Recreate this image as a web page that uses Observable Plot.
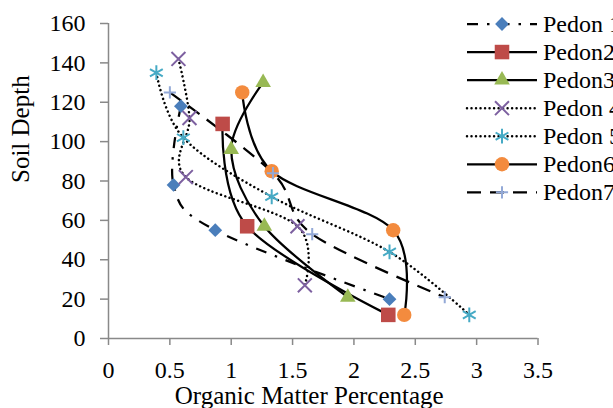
<!DOCTYPE html>
<html>
<head>
<meta charset="utf-8">
<script src="https://cdn.jsdelivr.net/npm/d3@7"></script>
<script src="https://cdn.jsdelivr.net/npm/@observablehq/plot@0.6"></script>
<style>
  html, body { margin: 0; padding: 0; background: #fff; }
  #wrap { position: relative; width: 613px; height: 408px; overflow: hidden; font-family: "Liberation Serif", "DejaVu Serif", serif; }
  #wrap svg { position: absolute; left: 0; top: 0; }
</style>
</head>
<body>
<div id="wrap"></div>
<script>
// ---- data ----
const pedonNames = ["Pedon 1", "Pedon2", "Pedon3", "Pedon 4", "Pedon 5", "Pedon6", "Pedon7"];
const om1 = [0.59, 0.53, 0.87, 2.29];        const depth1 = [118, 78, 55, 20];
const om2 = [0.93, 1.13, 2.28];              const depth2 = [109, 57, 12];
const om3 = [1.26, 1.00, 1.27, 1.95];        const depth3 = [130, 96, 57, 21];
const om4 = [0.57, 0.66, 0.63, 1.54, 1.60];  const depth4 = [142, 112, 82, 57, 27];
const om5 = [0.39, 0.61, 1.33, 2.29, 2.94];  const depth5 = [135, 102, 72, 44, 12];
const om6 = [1.09, 1.33, 2.32, 2.41];        const depth6 = [125, 85, 55, 12];
const om7 = [0.50, 1.34, 1.66, 2.74];        const depth7 = [125, 84, 53, 21];
const xTicks = [0, 0.5, 1, 1.5, 2, 2.5, 3, 3.5];
const yTicks = [0, 20, 40, 60, 80, 100, 120, 140, 160];
const xLabel = "Organic Matter Percentage";
const yLabel = "Soil Depth";

// ---- styles ----
const styles = [
  {symbol: "diamond2", color: "#4A7EBB", r: 6.2, filled: true,  dash: "11,9,2.5,9"},
  {symbol: "square",   color: "#BE4B48", r: 8.2, filled: true,  dash: null},
  {symbol: "triangle", color: "#98B954", r: 5.8, filled: true,  dash: null},
  {symbol: "times",    color: "#7D60A0", r: 6.4, filled: false, dash: "0.01,4.5"},
  {symbol: "asterisk", color: "#46AAC5", r: 7.0, filled: false, dash: "0.01,4.5"},
  {symbol: "circle",   color: "#F38B3E", r: 7.2, filled: true,  dash: null},
  {symbol: "plus",     color: "#93A9D7", r: 4.0, filled: false, dash: "14,9"}
];
const oms = [om1, om2, om3, om4, om5, om6, om7];
const depths = [depth1, depth2, depth3, depth4, depth5, depth6, depth7];
const series = pedonNames.map((name, i) => oms[i].map((om, j) => ({name, om, depth: depths[i][j]})));

const FONT = "Liberation Serif";
const isDot = s => s.dash === "0.01,4.5";
const marks = [];
series.forEach((data, i) => {
  const s = styles[i];
  marks.push(Plot.line(data, {
    x: "om", y: "depth", curve: "cardinal", stroke: "#000",
    strokeWidth: isDot(s) ? 2.5 : 2.25,
    strokeDasharray: s.dash || undefined,
    strokeLinecap: isDot(s) ? "round" : "butt"
  }));
});
series.forEach((data, i) => {
  const s = styles[i];
  marks.push(Plot.dot(data, {
    x: "om", y: "depth", symbol: () => s.symbol, r: s.r,
    fill: s.filled ? s.color : "none",
    stroke: s.filled ? "none" : s.color,
    strokeWidth: s.filled ? 0 : 2
  }));
});

const chart = Plot.plot({
  width: 613, height: 408,
  marginLeft: 108, marginRight: 75.5, marginTop: 23, marginBottom: 70,
  style: {fontFamily: FONT, background: "transparent", color: "#000"},
  x: {domain: [0, 3.5]},
  y: {domain: [0, 160]},
  marks: [
    Plot.ruleX([0], {stroke: "#898989", strokeWidth: 1.5}),
    Plot.ruleY([0], {stroke: "#898989", strokeWidth: 1.5}),
    Plot.axisX({ticks: xTicks, tickFormat: d => String(d), tickSize: 7, tickPadding: 15, fontSize: 24, stroke: "#898989", strokeWidth: 1.5, label: null}),
    Plot.axisY({ticks: yTicks, tickFormat: d => String(d), tickSize: 8, tickPadding: 15, fontSize: 24, stroke: "#898989", strokeWidth: 1.5, label: null}),
    Plot.text([xLabel], {text: d => d, frameAnchor: "bottom", lineAnchor: "middle", dy: 57, dx: -14, fontSize: 25, fill: "#000"}),
    Plot.text([yLabel], {text: d => d, frameAnchor: "left", lineAnchor: "middle", rotate: -90, dx: -88, dy: 2, fontSize: 25, fill: "#000"}),
    ...marks
  ]
});
document.getElementById("wrap").appendChild(chart);

// ---- legend (overlay) ----
const symMap = {diamond2: d3.symbolDiamond2, square: d3.symbolSquare, triangle: d3.symbolTriangle,
  times: d3.symbolTimes, asterisk: d3.symbolAsterisk, circle: d3.symbolCircle, plus: d3.symbolPlus};
const leg = d3.select("#wrap").append("svg").attr("width", 613).attr("height", 408)
  .style("pointer-events", "none");
pedonNames.forEach((name, i) => {
  const s = styles[i];
  const y = 24 + i * 28.05;
  leg.append("line").attr("x1", 467).attr("x2", 537).attr("y1", y).attr("y2", y)
    .attr("stroke", "#000").attr("stroke-width", isDot(s) ? 2.5 : 2.25)
    .attr("stroke-dasharray", s.dash)
    .attr("stroke-linecap", isDot(s) ? "round" : "butt");
  leg.append("path").attr("transform", `translate(502,${y})`)
    .attr("d", d3.symbol(symMap[s.symbol], Math.PI * s.r * s.r)())
    .attr("fill", s.filled ? s.color : "none")
    .attr("stroke", s.filled ? "none" : s.color)
    .attr("stroke-width", s.filled ? 0 : 2);
  leg.append("text").attr("x", 543).attr("y", y + 8)
    .attr("font-family", FONT).attr("font-size", 24).attr("fill", "#000").text(name);
});
</script>
</body>
</html>
